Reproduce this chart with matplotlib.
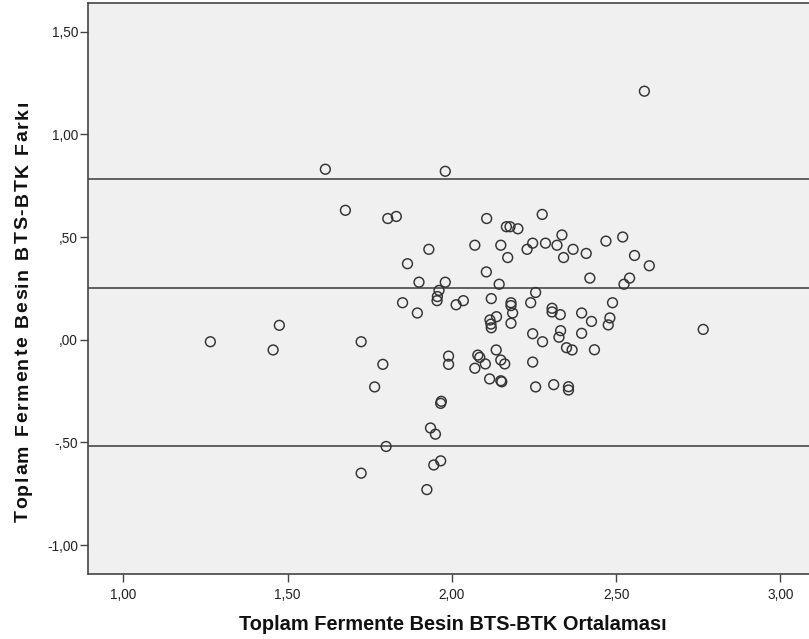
import matplotlib
matplotlib.use('Agg')
import matplotlib.pyplot as plt
from matplotlib.ticker import FuncFormatter
from matplotlib.font_manager import FontProperties

# Ortalama (x) ve fark (y) degerleri
ortalama = [1.615, 1.980, 1.676, 1.805, 1.831, 1.930, 1.865, 1.900, 1.980, 1.961,
            1.956, 1.955, 1.850, 2.013, 1.895, 1.475, 1.265, 1.456, 1.724, 1.790,
            1.990, 1.990, 1.765, 1.966, 1.968, 1.935, 1.950, 1.800, 1.966, 1.945,
            1.724, 1.924, 2.106, 2.275, 2.166, 2.177, 2.201, 2.335, 2.070, 2.149,
            2.246, 2.285, 2.229, 2.320, 2.369, 2.170, 2.340, 2.409, 2.469, 2.520,
            2.105, 2.420, 2.144, 2.524, 2.255, 2.120, 2.035, 2.180, 2.180, 2.185,
            2.180, 2.240, 2.305, 2.305, 2.330, 2.395, 2.489, 2.425, 2.481, 2.476,
            2.136, 2.116, 2.119, 2.120, 2.246, 2.276, 2.331, 2.326, 2.395, 2.349,
            2.366, 2.434, 2.079, 2.085, 2.070, 2.102, 2.135, 2.149, 2.161, 2.246,
            2.115, 2.149, 2.152, 2.255, 2.310, 2.355, 2.355, 2.586, 2.556, 2.601,
            2.541, 2.765]
fark = [0.83, 0.82, 0.63, 0.59, 0.60, 0.44, 0.37, 0.28, 0.28, 0.24,
        0.21, 0.19, 0.18, 0.17, 0.13, 0.07, -0.01, -0.05, -0.01, -0.12,
        -0.08, -0.12, -0.23, -0.31, -0.30, -0.43, -0.46, -0.52, -0.59, -0.61,
        -0.65, -0.73, 0.59, 0.61, 0.55, 0.55, 0.54, 0.51, 0.46, 0.46,
        0.47, 0.47, 0.44, 0.46, 0.44, 0.40, 0.40, 0.42, 0.48, 0.50,
        0.33, 0.30, 0.27, 0.27, 0.23, 0.20, 0.19, 0.18, 0.166, 0.13,
        0.08, 0.18, 0.153, 0.135, 0.122, 0.13, 0.18, 0.089, 0.106, 0.072,
        0.112, 0.096, 0.076, 0.058, 0.029, -0.01, 0.044, 0.012, 0.031, -0.039,
        -0.05, -0.049, -0.075, -0.086, -0.139, -0.118, -0.05, -0.099, -0.118, -0.109,
        -0.191, -0.200, -0.205, -0.230, -0.219, -0.229, -0.245, 1.21, 0.41, 0.36,
        0.30, 0.05]

# ortalama fark ve uyum sinirlari
ref_lines = [0.782, 0.252, -0.519]

xticks = [1.0, 1.5, 2.0, 2.5, 3.0]
yticks = [-1.0, -0.5, 0.0, 0.5, 1.0, 1.5]

xlabel = 'Toplam Fermente Besin BTS-BTK Ortalaması'
ylabel = 'Toplam Fermente Besin BTS-BTK Farkı'

def spss_fmt(v, pos):
    s = '%.2f' % v
    s = s.replace('.', ',')
    if s.startswith('0,'):
        s = s[1:]
    elif s.startswith('-0,'):
        s = '-' + s[2:]
    return s

plt.rcParams['font.family'] = ['Liberation Sans', 'DejaVu Sans']

W, H = 809, 639
fig = plt.figure(figsize=(W / 100, H / 100), dpi=100)
ax = fig.add_axes([0.1084, 0.1017, 0.8916, 0.8941])
ax.set_facecolor('#f0f0f0')

for yv in ref_lines:
    ax.axhline(yv, color='#555555', linewidth=1.3, zorder=2)

ax.scatter(ortalama, fark, s=50, facecolors='none', edgecolors='#333333',
           linewidths=1.05, zorder=3)

ax.set_xlim(0.8917, 3.087)
ax.set_ylim(-1.141, 1.641)
ax.set_xticks(xticks)
ax.set_yticks(yticks)
ax.xaxis.set_major_formatter(FuncFormatter(spss_fmt))
ax.yaxis.set_major_formatter(FuncFormatter(spss_fmt))
ax.tick_params(axis='both', direction='out', length=6, width=1.0,
               color='#444444', labelsize=9.8, labelcolor='#222222')
ax.tick_params(axis='y', pad=1)
ax.tick_params(axis='x', pad=4)

for side in ['left', 'bottom', 'top']:
    ax.spines[side].set_color('#444444')
    ax.spines[side].set_linewidth(1.2)
ax.spines['right'].set_visible(False)

fig.text(453 / W, 1 - 629.5 / H, xlabel, ha='center', va='baseline',
         fontsize=14.4, fontweight='bold', color='#111111')

# y ekseni etiketi: SPSS gibi harf araligi acik, karakter karakter yerlestir
prop = FontProperties(family=['Liberation Sans', 'DejaVu Sans'], weight='bold', size=14)
renderer = fig.canvas.get_renderer()
widths = []
for ch in ylabel:
    if ch == ' ':
        w, _, _ = renderer.get_text_width_height_descent('a a', prop, ismath=False)
        w2, _, _ = renderer.get_text_width_height_descent('aa', prop, ismath=False)
        widths.append(w - w2)
    else:
        w, _, _ = renderer.get_text_width_height_descent(ch, prop, ismath=False)
        widths.append(w)
total_target = 522 - 101
gap = (total_target - sum(widths)) / (len(ylabel) - 1)
ypos = 522.0
for ch, w in zip(ylabel, widths):
    if ch != ' ':
        fig.text(27.5 / W, 1 - ypos / H, ch, rotation=90, rotation_mode='anchor',
                 ha='left', va='baseline', fontproperties=prop, color='#111111')
    ypos -= w + gap

fig.savefig('out.png', dpi=100)
